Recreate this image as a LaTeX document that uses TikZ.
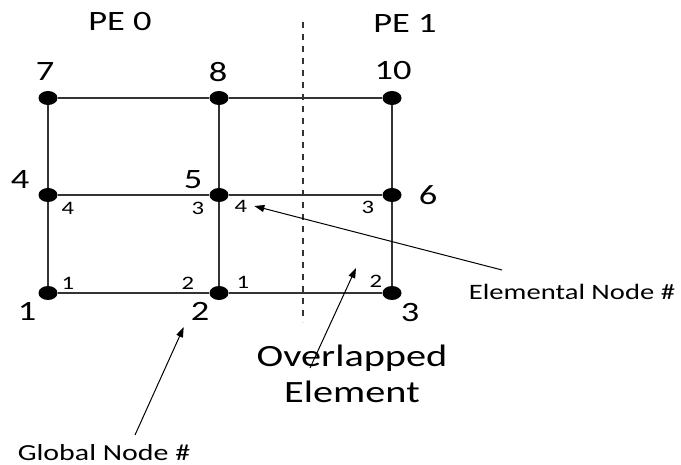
\documentclass[tikz,border=0pt]{standalone}
\usepackage{fontspec}
\setmainfont{Carlito}[FakeStretch=1.3]
\usetikzlibrary{arrows.meta,shapes.geometric}
\tikzset{
  gdot/.style={ellipse,fill=black,inner sep=0pt,minimum width=9.5pt,minimum height=7pt},
  gnum/.style={font=\fontsize{14}{16}\selectfont},
  elnum/.style={font=\fontsize{9.5}{11}\selectfont},
  mesh/.style={line width=0.6pt,draw=black!80},
  pointer/.style={line width=0.5pt,-{Triangle[length=5pt,width=3.5pt]}}
}
\begin{document}
\begin{tikzpicture}[x=0.5pt,y=-0.5pt]
\useasboundingbox (0,0) rectangle (681,465);
% global nodes
\node[gdot] (n7) at (48,98) {};
\node[gdot] (n8) at (219,98) {};
\node[gdot] (n10) at (392,98) {};
\node[gdot] (n4) at (48,195) {};
\node[gdot] (n5) at (219,195) {};
\node[gdot] (n6) at (392,195) {};
\node[gdot] (n1) at (48,293) {};
\node[gdot] (n2) at (219,293) {};
\node[gdot] (n3) at (392,293) {};
% mesh lines
\draw[mesh] (n7)--(n8)--(n10) (n4)--(n5)--(n6) (n1)--(n2)--(n3);
\draw[mesh] (n7)--(n4)--(n1) (n8)--(n5)--(n2) (n10)--(n6)--(n3);
% partition
\coordinate (cuttop) at (303,22);
\coordinate (cutbot) at (303,322);
\draw[mesh,dashed] (cuttop)--(cutbot);
\node[gnum] (pe0) at (120,22) {PE 0};
\node[gnum] (pe1) at (405,23) {PE 1};
% global numbers
\node[gnum] (g7) at (45,72) {7};
\node[gnum] (g8) at (218,72) {8};
\node[gnum] (g10) at (393,71) {10};
\node[gnum] (g4) at (20,180) {4};
\node[gnum] (g5) at (193,180) {5};
\node[gnum] (g6) at (428,195) {6};
\node[gnum] (g1) at (27,311) {1};
\node[gnum] (g2) at (200,311) {2};
\node[gnum] (g3) at (410,313) {3};
% elemental numbers
\node[elnum] (e4a) at (68,208) {4};
\node[elnum] (e3a) at (198,208) {3};
\node[elnum] (e4b) at (241,206) {4};
\node[elnum] (e3b) at (368,207) {3};
\node[elnum] (e1a) at (68,283) {1};
\node[elnum] (e2a) at (188,283) {2};
\node[elnum] (e1b) at (243,282) {1};
\node[elnum] (e2b) at (376,281) {2};
% annotations
\node[font=\fontsize{11}{13}\selectfont] (lblelem) at (572,292) {Elemental Node \#};
\coordinate (elemtail) at (502,270);
\draw[pointer] (elemtail)--(e4b.east);
\node[font=\fontsize{15.5}{18}\selectfont,align=center] (lblover) at (352,374) {Overlapped\\Element};
\coordinate (overtail) at (310,368);
\coordinate (overhead) at (356,268);
\draw[pointer] (overtail)--(overhead);
\node[font=\fontsize{11.5}{14}\selectfont] (lblglob) at (104,453) {Global Node \#};
\coordinate (globtail) at (135,435);
\draw[pointer] (globtail)--(g2.south west);
\end{tikzpicture}
\end{document}
